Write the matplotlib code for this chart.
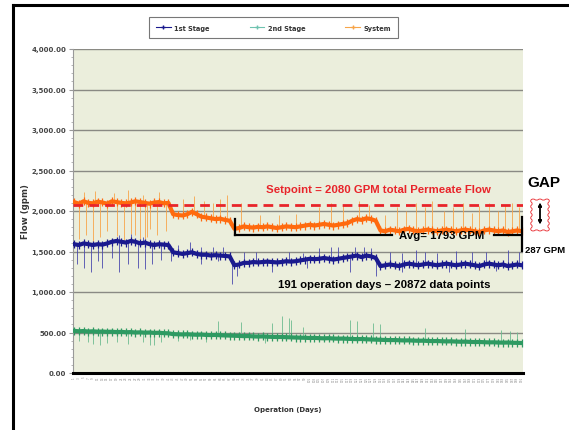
import numpy as np
import matplotlib.pyplot as plt
from matplotlib.lines import Line2D
from matplotlib.patches import FancyBboxPatch
from matplotlib.ticker import MultipleLocator, FuncFormatter

# daily readings, every 2nd day
days = np.arange(1, 192, 2)

system = [2110, 2090, 2120, 2100, 2095, 2115, 2105, 2090, 2120, 2110, 2100, 2095, 2105, 2120, 2110, 2100, 2090, 2105, 2110, 2095, 2100,
          1960, 1950, 1945, 1960,
          1990, 1960, 1930, 1920, 1910, 1900, 1905, 1890, 1880,
          1780, 1790, 1810, 1800, 1795, 1805, 1800, 1810, 1800, 1790, 1800, 1810, 1805, 1800, 1810,
          1820, 1830, 1820, 1830, 1840, 1830, 1820, 1830, 1840, 1850,
          1880, 1900, 1890, 1910, 1900, 1880,
          1760, 1750, 1770, 1760, 1750, 1770, 1780, 1760, 1750, 1760, 1770, 1760, 1750, 1760, 1770, 1760,
          1750, 1760, 1770, 1760, 1750, 1740, 1760, 1770, 1760, 1750, 1760, 1740, 1750, 1760, 1750]

stage1 = [1590, 1580, 1600, 1590, 1580, 1590, 1585, 1600, 1620, 1630, 1620, 1610, 1630, 1620, 1600, 1610, 1590, 1580, 1590, 1585, 1580,
          1490, 1480, 1470, 1480,
          1490, 1470, 1460, 1460, 1450, 1455, 1450, 1445, 1440,
          1330, 1340, 1360, 1360, 1370, 1365, 1370, 1375, 1370, 1365, 1370, 1380, 1375, 1380, 1390,
          1400, 1410, 1405, 1410, 1420, 1410, 1400, 1410, 1420, 1430,
          1440, 1450, 1430, 1450, 1440, 1420,
          1320, 1330, 1340, 1330, 1320, 1340, 1350, 1340, 1330, 1340, 1350, 1340, 1330, 1340, 1350, 1340,
          1330, 1340, 1350, 1340, 1330, 1320, 1340, 1350, 1340, 1330, 1340, 1320, 1330, 1340, 1330]

stage2 = [520, 515, 518, 512, 515, 510, 512, 508, 510, 505, 508, 503, 505, 500, 502, 498, 500, 495, 497, 492, 490,
          480, 478, 476, 478, 475, 472, 474, 470, 468, 470, 466, 464, 462,
          460, 458, 455, 456, 452, 450, 452, 448, 446, 444, 445, 442, 440, 438, 436,
          435, 432, 434, 430, 428, 430, 426, 424, 425, 422,
          420, 418, 420, 416, 414, 412,
          410, 408, 406, 407, 404, 402, 403, 400, 398, 399, 396, 394, 395, 392, 390, 391,
          388, 386, 387, 384, 382, 383, 380, 378, 379, 376, 375, 376, 373, 372, 370]

# isolated excursions (day, value)
sys_spike_days = [3, 6, 9, 12, 15, 19, 22, 25, 27, 29, 31, 32, 33, 36, 40,
                  5, 10, 18, 24, 30, 37, 47, 52, 56, 60, 63, 66, 72, 80, 88, 95, 105, 110, 115, 122, 126,
                  133, 138, 142, 146, 150, 153, 158, 162, 166, 170, 173, 177, 181, 184, 187, 190]
sys_spike_vals = [1650, 1700, 1620, 1680, 1750, 1690, 1640, 1720, 1700, 1650, 1660, 1680, 1780, 1700, 1750,
                  2230, 2250, 2220, 2260, 2200, 2230, 2150, 2180, 2120, 2100, 2150, 2200, 2100, 1950, 1950, 1960, 2050, 2100, 2080, 2120, 2080,
                  1950, 2050, 2000, 2100, 2050, 2120, 2000, 2050, 2100, 1980, 2060, 2100, 2000, 2080, 2100, 2050]

st1_spike_days = [2, 5, 8, 11, 13, 17, 20, 24, 28, 31, 34, 38, 42, 55, 62, 68, 70, 85, 100, 118, 129, 140, 160, 180,
                  20, 25, 30, 45, 50, 55, 60, 64, 73, 78, 92, 98, 105, 110, 113, 120, 124, 127,
                  135, 140, 146, 150, 155, 163, 170, 176, 185, 190]
st1_spike_vals = [1350, 1300, 1250, 1380, 1300, 1420, 1250, 1350, 1300, 1280, 1350, 1400, 1380, 1350, 1380, 1100, 1200, 1250, 1300, 1250, 1200, 1250, 1250, 1260,
                  1700, 1720, 1680, 1580, 1620, 1560, 1550, 1560, 1500, 1490, 1500, 1480, 1540, 1550, 1560, 1550, 1560, 1540,
                  1500, 1480, 1520, 1500, 1480, 1510, 1500, 1490, 1520, 1500]

st2_spike_days = [3, 7, 9, 12, 15, 19, 24, 30, 33, 35, 38, 45, 50, 57, 82,
                  62, 72, 85, 89, 92, 93, 98, 118, 121, 128, 131, 150, 167, 182, 186, 189]
st2_spike_vals = [400, 380, 360, 350, 370, 380, 360, 380, 350, 345, 380, 400, 410, 380, 370,
                  640, 630, 620, 700, 680, 660, 570, 650, 640, 620, 600, 560, 540, 530, 520, 510]

setpoint = 2080
avg_level = 1705

W, H = 569, 431
fig = plt.figure(figsize=(W / 100, H / 100), dpi=100)
ax = fig.add_axes([73 / W, 1 - 374 / H, 450 / W, 324 / H])
ax.set_facecolor('#EBEEDC')


def px(x, y):
    return x / W, 1 - y / H


series = [
    (system, sys_spike_days, sys_spike_vals, '#FF6A0E', '#F7A54A'),
    (stage1, st1_spike_days, st1_spike_vals, '#1A1A8E', '#4A4AAE'),
    (stage2, st2_spike_days, st2_spike_vals, '#2E9A62', '#6DBB90'),
]
for vals, sd, sv, c, cl in series:
    base = np.interp(sd, days, vals)
    ax.vlines(sd, base, sv, colors=cl, lw=0.6, zorder=2)
    ax.plot(days, vals, color=c, lw=3.0, marker='|', ms=6, mew=0.9, zorder=3)

ax.axhline(setpoint, color='#E8242A', lw=2.0, dashes=(3.5, 2.2), zorder=4)

ax.set_xlim(0.5, 191.5)
ax.set_ylim(0, 4000)
ax.yaxis.set_major_locator(MultipleLocator(500))
ax.yaxis.set_minor_locator(MultipleLocator(100))
ax.yaxis.set_major_formatter(FuncFormatter(lambda v, p: f'{v:,.2f}'))
ax.grid(axis='y', color='#8A8A84', lw=1.0, zorder=1)
ax.set_axisbelow(True)
ax.tick_params(axis='y', labelsize=5.0, labelcolor='#444444', colors='#999999', length=3, pad=2)
ax.tick_params(axis='y', which='minor', length=1.5, colors='#aaaaaa')
for lab in ax.get_yticklabels():
    lab.set_fontweight('bold')

ax.set_xticks(days)
ax.set_xticklabels([str(d) for d in days], rotation=90, fontsize=2.0, color='#888888')
ax.tick_params(axis='x', length=0, pad=2)

for s in ['top', 'right']:
    ax.spines[s].set_visible(False)
ax.spines['left'].set_color('#999999')
ax.spines['left'].set_linewidth(0.8)
ax.spines['bottom'].set_color('black')
ax.spines['bottom'].set_linewidth(2.2)

fig.text(*px(25, 212), 'Flow (gpm)', rotation=90, ha='center', va='center', fontsize=6.2, fontweight='bold', color='#333333')
fig.text(*px(288, 410), 'Operation (Days)', ha='center', va='center', fontsize=5, fontweight='bold', color='#333333')

handles = [Line2D([], [], color='#1A1A8E', lw=0.8, marker='+', ms=2.5),
           Line2D([], [], color='#6FC3B0', lw=0.8, marker='+', ms=2.5),
           Line2D([], [], color='#F7A54A', lw=0.8, marker='+', ms=2.5)]
leg = fig.legend(handles, ['1st Stage', '2nd Stage', 'System'], loc='center', bbox_to_anchor=px(273.5, 28.5),
                 ncol=3, fontsize=4.8, frameon=True, fancybox=False, edgecolor='#555555',
                 borderpad=1.1, columnspacing=6, handlelength=2.2, handletextpad=0.5)
leg.get_frame().set_linewidth(0.8)
for t in leg.get_texts():
    t.set_fontweight('bold')
    t.set_color('#333333')

# annotations
fnt = ['Liberation Sans', 'DejaVu Sans']
fig.text(*px(378, 190), 'Setpoint = 2080 GPM total Permeate Flow', ha='center', va='center',
         fontsize=8.2, fontweight='bold', color='#E8242A', family=fnt)
fig.text(*px(442, 236), 'Avg= 1793 GPM', ha='center', va='center', fontsize=8.2, fontweight='bold', color='black', family=fnt)
fig.text(*px(384, 285), '191 operation days \u2013 20872 data points', ha='center', va='center',
         fontsize=8.2, fontweight='bold', color='black', family=fnt)
fig.text(*px(544, 183), 'GAP', ha='center', va='center', fontsize=11, fontweight='bold', color='black', family=fnt)
fig.text(*px(545, 251), '287 GPM', ha='center', va='center', fontsize=6.8, fontweight='bold', color='black', family=fnt)

ax.plot([69.4, 69.4], [1900, avg_level], color='black', lw=1.6, zorder=5)
ax.plot([69.4, 135.7], [avg_level, avg_level], color='black', lw=1.6, zorder=5)
ax.plot([179, 191], [avg_level, avg_level], color='black', lw=1.6, zorder=5)
ax.plot([191, 191], [1925, 1510], color='black', lw=1.6, zorder=5, clip_on=False)

box = FancyBboxPatch(px(532, 231), 16 / W, 30 / H, boxstyle='roundtooth,pad=0.004,tooth_size=0.006',
                     transform=fig.transFigure, fill=False, edgecolor='#E8242A', lw=0.6)
fig.add_artist(box)
fig.add_artist(plt.annotate('', xy=px(540, 201), xytext=px(540, 228), xycoords='figure fraction',
                            arrowprops=dict(arrowstyle='<|-|>', color='black', lw=1.0, mutation_scale=5)))

# frame around the slide
fig.add_artist(Line2D([13 / W, 13 / W], [0, 1 - 6 / H], color='black', lw=2.2, transform=fig.transFigure))
fig.add_artist(Line2D([13 / W, 1], [1 - 6 / H, 1 - 6 / H], color='black', lw=2.2, transform=fig.transFigure))

fig.savefig('out.png', dpi=100)
